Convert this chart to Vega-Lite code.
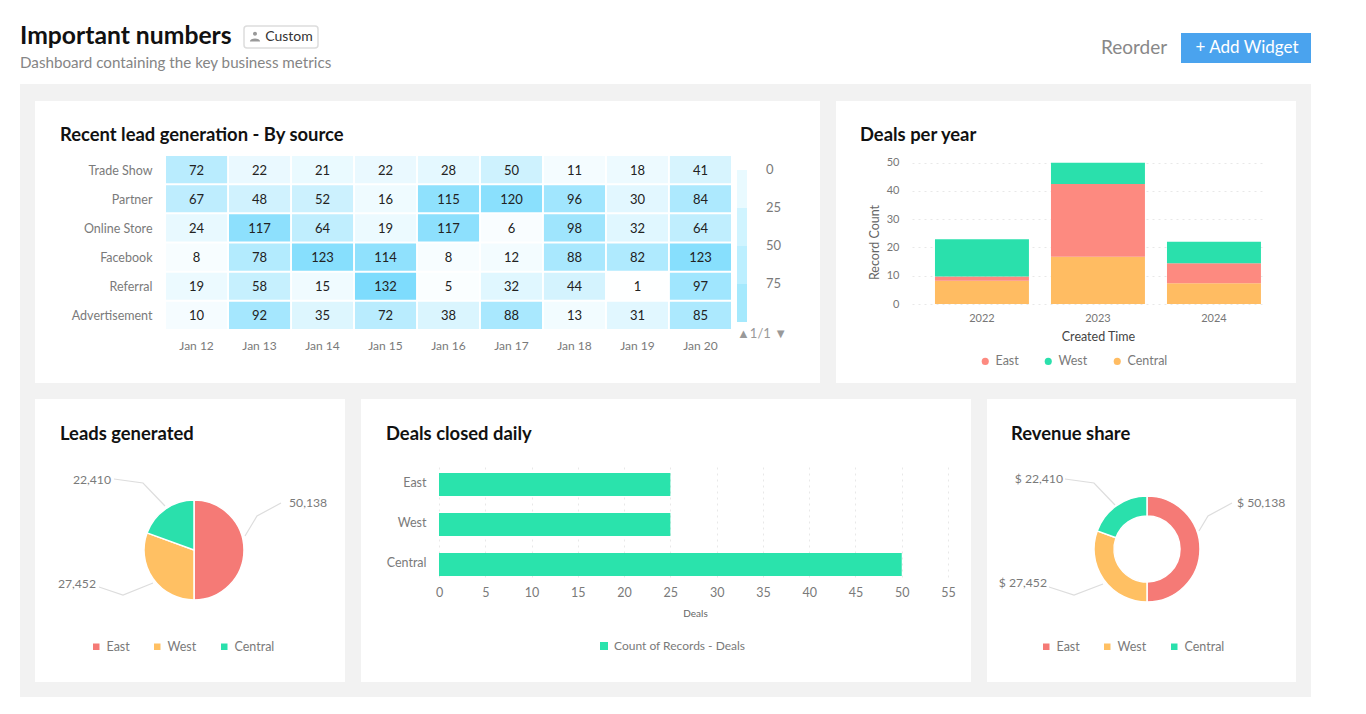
{
"$schema":"https://vega.github.io/schema/vega-lite/v6.json",
"background":"#f2f2f2","padding":0,"spacing":0,"bounds":"full",
"resolve":{"scale":{"color":"independent"},"legend":{"color":"independent"}},
"config":{"font":"Lato","view":{"stroke":null},"axis":{"labelFont":"Lato","titleFont":"Lato"},"legend":{"labelFont":"Lato","titleFont":"Lato","gradientLength":228,"gradientThickness":10},"title":{"font":"Lato"}},
"vconcat":[
{"width":1366,"height":84,"view":{"fill":"#ffffff"},
 "title":{"text":"Important numbers","subtitle":"Dashboard containing the key business metrics","anchor":"start","dx":20,"offset":-71,"fontSize":24.7,"fontWeight":"bold","color":"#111111","subtitleFont":"Lato","subtitleFontSize":15.2,"subtitleColor":"#858585","subtitlePadding":7},
 "resolve":{"scale":{"x":"independent","y":"independent"}},
 "layer":[
 {"data":{"values":[{"item":"Custom"}]},"mark":{"type":"rect","fill":"#ffffff","stroke":"#dddddd","strokeWidth":1.5,"cornerRadius":3},
  "encoding":{"x":{"field":"item","type":"nominal","axis":null,"scale":{"range":[244,318],"paddingInner":0,"paddingOuter":0}},"y":{"field":"item","type":"nominal","axis":null,"scale":{"range":[26,48],"paddingInner":0,"paddingOuter":0}}}},
 {"data":{"values":[{"item":"Custom"}]},"mark":{"type":"point","filled":true,"opacity":1,"color":"#999999","size":130,"shape":"M-0.35,-0.55 a0.35,0.35 0 1,0 0.7,0 a0.35,0.35 0 1,0 -0.7,0 M-0.9,0.8 C-0.9,0.1 0.9,0.1 0.9,0.8 Z"},
  "encoding":{"x":{"field":"item","type":"nominal","axis":null,"scale":{"type":"point","range":[255,255]}},"y":{"field":"item","type":"nominal","axis":null,"scale":{"type":"point","range":[37,37]}}}},
 {"data":{"values":[{"item":"Custom"}]},"mark":{"type":"text","fontSize":14,"color":"#333333"},
  "encoding":{"text":{"field":"item"},"x":{"field":"item","type":"nominal","axis":null,"scale":{"type":"point","range":[289,289]}},"y":{"field":"item","type":"nominal","axis":null,"scale":{"type":"point","range":[37,37]}}}},
 {"data":{"values":[{"item":"Reorder"}]},"mark":{"type":"text","fontSize":19,"color":"#888888"},
  "encoding":{"text":{"field":"item"},"x":{"field":"item","type":"nominal","axis":null,"scale":{"type":"point","range":[1134,1134]}},"y":{"field":"item","type":"nominal","axis":null,"scale":{"type":"point","range":[48,48]}}}},
 {"data":{"values":[{"item":"+ Add Widget"}]},"mark":{"type":"rect","fill":"#4aa3ee"},
  "encoding":{"x":{"field":"item","type":"nominal","axis":null,"scale":{"range":[1181,1311],"paddingInner":0,"paddingOuter":0}},"y":{"field":"item","type":"nominal","axis":null,"scale":{"range":[33,63],"paddingInner":0,"paddingOuter":0}}}},
 {"data":{"values":[{"item":"+ Add Widget"}]},"mark":{"type":"text","fontSize":17,"color":"#ffffff"},
  "encoding":{"text":{"field":"item"},"x":{"field":"item","type":"nominal","axis":null,"scale":{"type":"point","range":[1247,1247]}},"y":{"field":"item","type":"nominal","axis":null,"scale":{"type":"point","range":[48,48]}}}}
 ]},
{"hconcat":[
 {"width":20,"height":613,"view":{"fill":"#ffffff"},"data":{"values":[]},"mark":"rect","encoding":{}},
 {"width":15,"height":613,"data":{"values":[]},"mark":"rect","encoding":{}},
 {"vconcat":[
  {"width":1261,"height":17,"data":{"values":[]},"mark":"rect","encoding":{}},
  {"hconcat":[
   {"width":785,"height":282,"view":{"fill":"#ffffff"},
    "title":{"text":"Recent lead generation - By source","anchor":"start","dx":25,"offset":-43.5,"fontSize":18.4,"fontWeight":"bold","color":"#111111"},
    "data":{"values":[
{"s":"Trade Show","d":"Jan 12","v":72},{"s":"Trade Show","d":"Jan 13","v":22},{"s":"Trade Show","d":"Jan 14","v":21},{"s":"Trade Show","d":"Jan 15","v":22},{"s":"Trade Show","d":"Jan 16","v":28},{"s":"Trade Show","d":"Jan 17","v":50},{"s":"Trade Show","d":"Jan 18","v":11},{"s":"Trade Show","d":"Jan 19","v":18},{"s":"Trade Show","d":"Jan 20","v":41},
{"s":"Partner","d":"Jan 12","v":67},{"s":"Partner","d":"Jan 13","v":48},{"s":"Partner","d":"Jan 14","v":52},{"s":"Partner","d":"Jan 15","v":16},{"s":"Partner","d":"Jan 16","v":115},{"s":"Partner","d":"Jan 17","v":120},{"s":"Partner","d":"Jan 18","v":96},{"s":"Partner","d":"Jan 19","v":30},{"s":"Partner","d":"Jan 20","v":84},
{"s":"Online Store","d":"Jan 12","v":24},{"s":"Online Store","d":"Jan 13","v":117},{"s":"Online Store","d":"Jan 14","v":64},{"s":"Online Store","d":"Jan 15","v":19},{"s":"Online Store","d":"Jan 16","v":117},{"s":"Online Store","d":"Jan 17","v":6},{"s":"Online Store","d":"Jan 18","v":98},{"s":"Online Store","d":"Jan 19","v":32},{"s":"Online Store","d":"Jan 20","v":64},
{"s":"Facebook","d":"Jan 12","v":8},{"s":"Facebook","d":"Jan 13","v":78},{"s":"Facebook","d":"Jan 14","v":123},{"s":"Facebook","d":"Jan 15","v":114},{"s":"Facebook","d":"Jan 16","v":8},{"s":"Facebook","d":"Jan 17","v":12},{"s":"Facebook","d":"Jan 18","v":88},{"s":"Facebook","d":"Jan 19","v":82},{"s":"Facebook","d":"Jan 20","v":123},
{"s":"Referral","d":"Jan 12","v":19},{"s":"Referral","d":"Jan 13","v":58},{"s":"Referral","d":"Jan 14","v":15},{"s":"Referral","d":"Jan 15","v":132},{"s":"Referral","d":"Jan 16","v":5},{"s":"Referral","d":"Jan 17","v":32},{"s":"Referral","d":"Jan 18","v":44},{"s":"Referral","d":"Jan 19","v":1},{"s":"Referral","d":"Jan 20","v":97},
{"s":"Advertisement","d":"Jan 12","v":10},{"s":"Advertisement","d":"Jan 13","v":92},{"s":"Advertisement","d":"Jan 14","v":35},{"s":"Advertisement","d":"Jan 15","v":72},{"s":"Advertisement","d":"Jan 16","v":38},{"s":"Advertisement","d":"Jan 17","v":88},{"s":"Advertisement","d":"Jan 18","v":13},{"s":"Advertisement","d":"Jan 19","v":31},{"s":"Advertisement","d":"Jan 20","v":85}
    ]},
    "encoding":{
     "x":{"field":"d","type":"nominal","title":null,"scale":{"range":[131,696],"paddingInner":0.03,"paddingOuter":0},"axis":{"orient":"bottom","offset":-43,"labelAngle":0,"ticks":false,"domain":false,"labelPadding":0,"labelFontSize":12,"labelColor":"#7a7a7a","grid":false}},
     "y":{"field":"s","type":"nominal","title":null,"sort":["Trade Show","Partner","Online Store","Facebook","Referral","Advertisement"],"scale":{"range":[55,228],"paddingInner":0.07,"paddingOuter":0},"axis":{"orient":"left","offset":-117,"ticks":false,"domain":false,"labelPadding":0,"labelOffset":1,"labelFontSize":12.5,"labelColor":"#7a7a7a","grid":false}}
    },
    "resolve":{"scale":{"color":"independent"},"legend":{"color":"independent"}},
    "layer":[
     {"mark":{"type":"rect"},"encoding":{"color":{"field":"v","type":"quantitative","legend":null,"scale":{"domain":[0,130],"range":["#ffffff","#80ddfd"],"interpolate":"rgb"}}}},
     {"mark":{"type":"text","fontSize":13,"color":"#222222","dy":1},"encoding":{"text":{"field":"v","type":"quantitative"}}},
     {"data":{"values":[]},"mark":{"type":"rect"},"encoding":{"color":{"field":"v","type":"quantitative","scale":{"type":"threshold","domain":[0,25,50,75,100],"range":["#ffffff","#a5e9fd","#bcefff","#d0f4ff","#e9faff","#ffffff"]},"legend":{"type":"gradient","orient":"none","legendX":702,"legendY":31,"direction":"vertical","gradientLength":228,"gradientThickness":10,"title":"▲1/1 ▼","titleOrient":"bottom","titlePadding":-32,"titleFontSize":13,"titleFontWeight":"normal","titleColor":"#999999","labelFontSize":13,"labelColor":"#7a7a7a","labelAlign":"center","labelOffset":19,"labelBaseline":"bottom","labelExpr":"datum.value<=0?'':''+(100-datum.value)"}}}}
    ]},
   {"width":16,"height":282,"data":{"values":[]},"mark":"rect","encoding":{}},
   {"width":460,"height":282,"view":{"fill":"#ffffff"},
    "title":{"text":"Deals per year","anchor":"start","dx":24,"offset":-43.5,"fontSize":18.4,"fontWeight":"bold","color":"#111111"},
    "data":{"values":[
     {"year":"2022","region":"Central","count":8.25,"rank":1},{"year":"2022","region":"East","count":1.45,"rank":2},{"year":"2022","region":"West","count":13.2,"rank":3},
     {"year":"2023","region":"Central","count":16.7,"rank":1},{"year":"2023","region":"East","count":25.8,"rank":2},{"year":"2023","region":"West","count":7.5,"rank":3},
     {"year":"2024","region":"Central","count":7.3,"rank":1},{"year":"2024","region":"East","count":7.1,"rank":2},{"year":"2024","region":"West","count":7.6,"rank":3}
    ]},
    "mark":{"type":"bar"},
    "encoding":{
     "x":{"field":"year","type":"nominal","scale":{"range":[76,429],"paddingInner":0.19,"paddingOuter":0.1165,"align":0.85},"axis":{"orient":"bottom","offset":-79,"labelAngle":0,"ticks":false,"domain":false,"labelPadding":8,"labelFontSize":11,"labelColor":"#777777","title":"Created Time","titleFontSize":12.5,"titleFontWeight":"normal","titleColor":"#444444","titleX":262,"titleY":26}},
     "y":{"field":"count","type":"quantitative","stack":"zero","scale":{"domain":[0,50],"nice":false,"range":[203,61.7]},"axis":{"orient":"left","values":[0,10,20,30,40,50],"ticks":false,"domain":false,"labelPadding":-63,"labelFontSize":11,"labelColor":"#777777","grid":true,"gridColor":"#e8e8e8","gridDash":[2,4],"title":"Record Count","titleFontSize":12.5,"titleFontWeight":"normal","titleColor":"#666666","titleX":45,"titleY":141}},
     "order":{"field":"rank","type":"quantitative"},
     "color":{"field":"region","type":"nominal","scale":{"domain":["East","West","Central"],"range":["#fd8a80","#2ae0ac","#ffbc62"]},"legend":{"orient":"none","legendX":143,"legendY":254,"direction":"horizontal","title":null,"symbolType":"circle","symbolSize":50,"labelFontSize":12.5,"labelColor":"#7a7a7a","columnPadding":23}}
    }}
  ],"spacing":0,"bounds":"full","resolve":{"scale":{"color":"independent"},"legend":{"color":"independent"}}},
  {"width":1261,"height":16,"data":{"values":[]},"mark":"rect","encoding":{}},
  {"hconcat":[
   {"width":310,"height":283,"view":{"fill":"#ffffff"},
    "title":{"text":"Leads generated","anchor":"start","dx":25,"offset":-44,"fontSize":18.4,"fontWeight":"bold","color":"#111111"},
    "layer":[
     {"data":{"values":[{"label":"East","value":180,"rank":1},{"label":"West","value":110,"rank":2},{"label":"Central","value":70,"rank":3}]},
      "mark":{"type":"arc","outerRadius":50,"stroke":"#ffffff","strokeWidth":1.5},
      "encoding":{"x":{"datum":0,"type":"quantitative","axis":null,"scale":{"domain":[-200,200],"range":[-41,359]}},"y":{"datum":0,"type":"quantitative","axis":null,"scale":{"domain":[-200,200],"range":[351,-49]}},
       "theta":{"field":"value","type":"quantitative"},"order":{"field":"rank","type":"quantitative"},
       "color":{"field":"label","type":"nominal","scale":{"domain":["East","West","Central"],"range":["#f57a76","#ffc063","#2ae0ac"]},"legend":{"orient":"none","legendX":55,"legendY":241,"direction":"horizontal","title":null,"symbolType":"square","symbolSize":64,"labelFontSize":12.5,"labelColor":"#7a7a7a","columnPadding":20}}}},
     {"data":{"values":[{"k":"East","i":0,"u":51,"v":14},{"k":"East","i":1,"u":63,"v":34},{"k":"East","i":2,"u":87,"v":47},{"k":"West","i":0,"u":-41,"v":-33},{"k":"West","i":1,"u":-71,"v":-45},{"k":"West","i":2,"u":-95,"v":-37},{"k":"Central","i":0,"u":-29,"v":44},{"k":"Central","i":1,"u":-51,"v":67},{"k":"Central","i":2,"u":-80,"v":71}]},
      "mark":{"type":"line","color":"#dddddd","strokeWidth":1.2},
      "encoding":{"x":{"field":"u","type":"quantitative"},"y":{"field":"v","type":"quantitative"},"detail":{"field":"k"},"order":{"field":"i","type":"quantitative"}}},
     {"data":{"values":[{"t":"50,138","u":87,"v":47}]},"mark":{"type":"text","align":"left","dx":8,"fontSize":12.2,"color":"#7a7a7a"},
      "encoding":{"x":{"field":"u","type":"quantitative"},"y":{"field":"v","type":"quantitative"},"text":{"field":"t"}}},
     {"data":{"values":[{"t":"27,452","u":-95,"v":-34},{"t":"22,410","u":-80,"v":70}]},"mark":{"type":"text","align":"right","dx":-3,"fontSize":12.2,"color":"#7a7a7a"},
      "encoding":{"x":{"field":"u","type":"quantitative"},"y":{"field":"v","type":"quantitative"},"text":{"field":"t"}}}
    ]},
   {"width":16,"height":283,"data":{"values":[]},"mark":"rect","encoding":{}},
   {"width":610,"height":283,"view":{"fill":"#ffffff"},
    "title":{"text":"Deals closed daily","anchor":"start","dx":25,"offset":-44,"fontSize":18.4,"fontWeight":"bold","color":"#111111"},
    "data":{"values":[{"region":"East","deals":25,"series":"Count of Records - Deals"},{"region":"West","deals":25,"series":"Count of Records - Deals"},{"region":"Central","deals":50,"series":"Count of Records - Deals"}]},
    "mark":{"type":"bar"},
    "encoding":{
     "x":{"field":"deals","type":"quantitative","scale":{"domain":[0,55],"nice":false,"range":[78,587]},"axis":{"orient":"top","values":[0,5,10,15,20,25,30,35,40,45,50,55],"ticks":false,"domain":false,"labelPadding":-200,"labelFontSize":12.5,"labelColor":"#7a7a7a","labelFlush":false,"grid":true,"gridColor":"#e8e8e8","gridDash":[2,4],"title":"Deals","titleFontSize":10,"titleFontWeight":"normal","titleColor":"#666666","titleBaseline":"top","titleX":334,"titleY":209}},
     "y":{"field":"region","type":"nominal","sort":["East","West","Central"],"scale":{"range":[68,178],"paddingInner":0.425,"paddingOuter":0.0875,"align":0.86},"axis":{"orient":"left","offset":-65,"ticks":false,"domain":false,"labelPadding":0,"labelOffset":-2,"labelFontSize":12.5,"labelColor":"#7a7a7a","title":null,"grid":false}},
     "color":{"field":"series","type":"nominal","scale":{"range":["#2ae3ac"]},"legend":{"orient":"none","legendX":237,"legendY":241,"direction":"horizontal","title":null,"symbolType":"square","symbolSize":64,"labelFontSize":12,"labelColor":"#7a7a7a"}}
    }},
   {"width":16,"height":283,"data":{"values":[]},"mark":"rect","encoding":{}},
   {"width":309,"height":283,"view":{"fill":"#ffffff"},
    "title":{"text":"Revenue share","anchor":"start","dx":24,"offset":-44,"fontSize":18.4,"fontWeight":"bold","color":"#111111"},
    "layer":[
     {"data":{"values":[{"label":"East","value":180,"rank":1},{"label":"West","value":110,"rank":2},{"label":"Central","value":70,"rank":3}]},
      "mark":{"type":"arc","outerRadius":53,"innerRadius":33,"stroke":"#ffffff","strokeWidth":1.5},
      "encoding":{"x":{"datum":0,"type":"quantitative","axis":null,"scale":{"domain":[-200,200],"range":[-40,360]}},"y":{"datum":0,"type":"quantitative","axis":null,"scale":{"domain":[-200,200],"range":[350,-50]}},
       "theta":{"field":"value","type":"quantitative"},"order":{"field":"rank","type":"quantitative"},
       "color":{"field":"label","type":"nominal","scale":{"domain":["East","West","Central"],"range":["#f57a76","#ffc063","#2ae0ac"]},"legend":{"orient":"none","legendX":53,"legendY":241,"direction":"horizontal","title":null,"symbolType":"square","symbolSize":64,"labelFontSize":12.5,"labelColor":"#7a7a7a","columnPadding":20}}}},
     {"data":{"values":[{"k":"East","i":0,"u":52,"v":18},{"k":"East","i":1,"u":61,"v":33},{"k":"East","i":2,"u":85,"v":46},{"k":"West","i":0,"u":-44,"v":-35},{"k":"West","i":1,"u":-73,"v":-46},{"k":"West","i":2,"u":-98,"v":-38},{"k":"Central","i":0,"u":-32,"v":44},{"k":"Central","i":1,"u":-53,"v":66},{"k":"Central","i":2,"u":-82,"v":70}]},
      "mark":{"type":"line","color":"#dddddd","strokeWidth":1.2},
      "encoding":{"x":{"field":"u","type":"quantitative"},"y":{"field":"v","type":"quantitative"},"detail":{"field":"k"},"order":{"field":"i","type":"quantitative"}}},
     {"data":{"values":[{"t":"$ 50,138","u":85,"v":46}]},"mark":{"type":"text","align":"left","dx":5,"fontSize":12.2,"color":"#7a7a7a"},
      "encoding":{"x":{"field":"u","type":"quantitative"},"y":{"field":"v","type":"quantitative"},"text":{"field":"t"}}},
     {"data":{"values":[{"t":"$ 27,452","u":-98,"v":-34},{"t":"$ 22,410","u":-82,"v":70}]},"mark":{"type":"text","align":"right","dx":-2,"fontSize":12.2,"color":"#7a7a7a"},
      "encoding":{"x":{"field":"u","type":"quantitative"},"y":{"field":"v","type":"quantitative"},"text":{"field":"t"}}}
    ]}
  ],"spacing":0,"bounds":"full","resolve":{"scale":{"color":"independent"},"legend":{"color":"independent"}}},
  {"width":1261,"height":15,"data":{"values":[]},"mark":"rect","encoding":{}}
 ],"spacing":0,"bounds":"full","resolve":{"scale":{"color":"independent"},"legend":{"color":"independent"}}},
 {"width":15,"height":613,"data":{"values":[]},"mark":"rect","encoding":{}},
 {"width":55,"height":613,"view":{"fill":"#ffffff"},"data":{"values":[]},"mark":"rect","encoding":{}}
],"spacing":0,"bounds":"full","resolve":{"scale":{"color":"independent"},"legend":{"color":"independent"}}},
{"width":1366,"height":17,"view":{"fill":"#ffffff"},"data":{"values":[]},"mark":"rect","encoding":{}}
]}
